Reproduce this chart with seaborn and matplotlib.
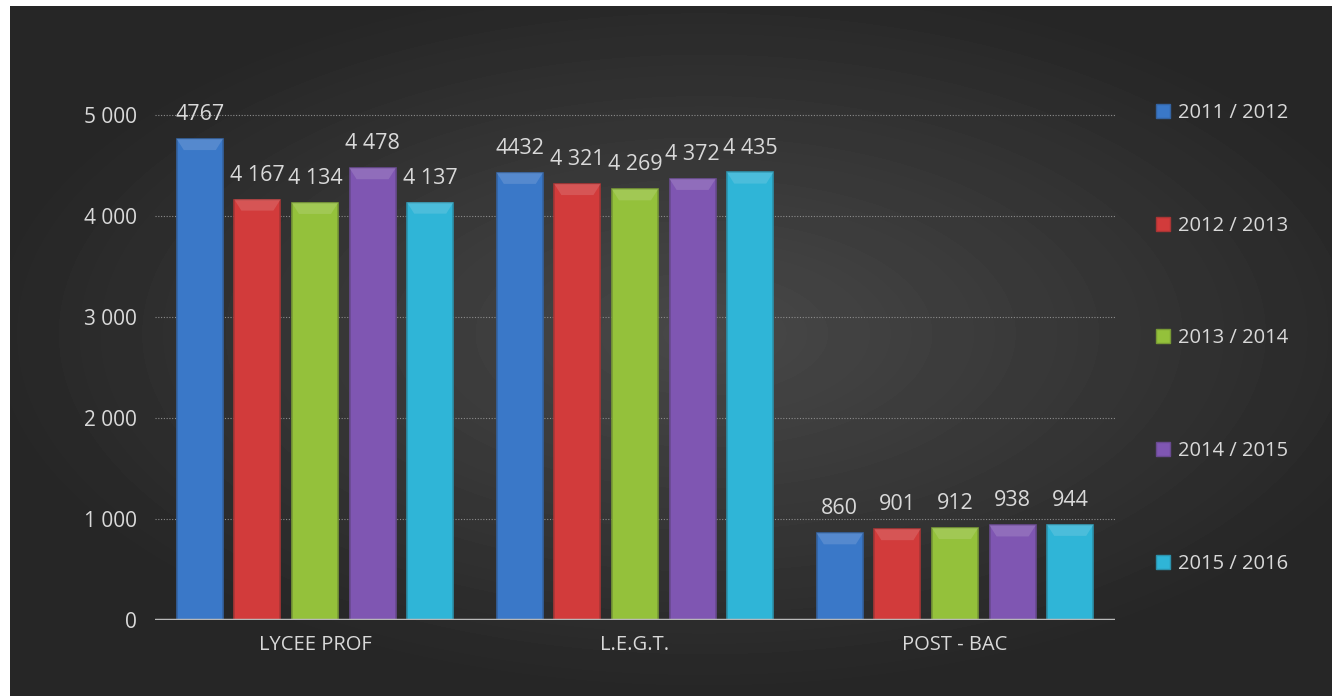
import numpy as np
import pandas as pd
import matplotlib.pyplot as plt
import matplotlib.patches as mpatches
from matplotlib.patches import Polygon
import seaborn as sns

# data
categories = ["LYCEE PROF", "L.E.G.T.", "POST - BAC"]
years = ["2011 / 2012", "2012 / 2013", "2013 / 2014", "2014 / 2015", "2015 / 2016"]
values_2011 = [4767, 4432, 860]
values_2012 = [4167, 4321, 901]
values_2013 = [4134, 4269, 912]
values_2014 = [4478, 4372, 938]
values_2015 = [4137, 4435, 944]
labels_2011 = ["4767", "4432", "860"]
labels_2012 = ["4 167", "4 321", "901"]
labels_2013 = ["4 134", "4 269", "912"]
labels_2014 = ["4 478", "4 372", "938"]
labels_2015 = ["4 137", "4 435", "944"]
yticks = [0, 1000, 2000, 3000, 4000, 5000]
ytick_labels = ["0", "1 000", "2 000", "3 000", "4 000", "5 000"]

all_values = [values_2011, values_2012, values_2013, values_2014, values_2015]
all_labels = [labels_2011, labels_2012, labels_2013, labels_2014, labels_2015]
colors = ["#3a78c8", "#d23b3b", "#94c13b", "#7f56b2", "#2fb5d7"]
text_col = "#d9d9d9"

rows = []
for y, vals in zip(years, all_values):
    for c, v in zip(categories, vals):
        rows.append({"category": c, "year": y, "value": v})
df = pd.DataFrame(rows)

sns.set_style("dark")
plt.rcParams["font.family"] = ["Open Sans", "DejaVu Sans"]

fig = plt.figure(figsize=(13.32, 6.96), dpi=100, facecolor="white")

# dark radial background (leaving the thin white border top/left)
bg = fig.add_axes([10 / 1332, 0, 1322 / 1332, 690 / 696])
gx, gy = np.meshgrid(np.linspace(-1, 1, 1322), np.linspace(-1, 1, 690))
r = np.sqrt(((gx - 0.05) / 1.05) ** 2 + ((gy + 0.05) / 1.0) ** 2)
shade = np.clip(0.285 - 0.13 * r, 0.15, 0.29)
bg.imshow(shade, cmap="gray", vmin=0, vmax=1, aspect="auto", extent=[0, 1, 0, 1],
          interpolation="bilinear")
bg.axis("off")

ax = fig.add_axes([155 / 1332, 76 / 696, 960 / 1332, 555 / 696])
ax.patch.set_alpha(0)

sns.barplot(data=df, x="category", y="value", hue="year", order=categories,
            hue_order=years, palette=colors, width=0.9, gap=0.2,
            saturation=1, ax=ax, legend=False, zorder=3)

ax.set_xlim(-0.5, 2.5)
ax.set_ylim(0, 5500)
ax.set_yticks(yticks)
ax.set_yticklabels(ytick_labels)
ax.set_xlabel("")
ax.set_ylabel("")

ax.grid(False)
for t in yticks[1:]:
    ax.axhline(t, color="#8c8c8c", lw=0.8, ls=(0, (1, 1.5)), zorder=1)
ax.axhline(0, color="#b8b8b8", lw=2.5, zorder=4)

for s in ax.spines.values():
    s.set_visible(False)
ax.tick_params(axis="y", colors=text_col, labelsize=15, length=0, pad=13)
ax.tick_params(axis="x", colors=text_col, labelsize=14.5, length=0, pad=11)

# bevel look for each bar
bev_x = 0.022
bev_y = 110
for cont, col in zip(ax.containers, colors):
    for p in cont:
        x0, w, h = p.get_x(), p.get_width(), p.get_height()
        p.set_edgecolor(sns.dark_palette(col, 5, reverse=True)[1])
        p.set_linewidth(1.2)
        top = Polygon([(x0, h), (x0 + w, h), (x0 + w - bev_x, h - bev_y),
                       (x0 + bev_x, h - bev_y)], closed=True,
                      facecolor=sns.light_palette(col, 5, reverse=True)[1],
                      edgecolor="none", alpha=0.6, zorder=3.5)
        ax.add_patch(top)

for cont, labs in zip(ax.containers, all_labels):
    ax.bar_label(cont, labels=labs, padding=10, color=text_col, fontsize=15.5)

handles = [mpatches.Patch(facecolor=c, edgecolor=sns.dark_palette(c, 5, reverse=True)[1])
           for c in colors]
leg = fig.legend(handles, years, loc="upper left", bbox_to_anchor=(1148 / 1332, 1 - 95 / 696),
                 frameon=False, fontsize=14.5, handlelength=0.7, handleheight=0.7,
                 handletextpad=0.4, labelspacing=4.6, borderaxespad=0)
for t in leg.get_texts():
    t.set_color(text_col)

fig.savefig("out.png", dpi=100, facecolor="white")
